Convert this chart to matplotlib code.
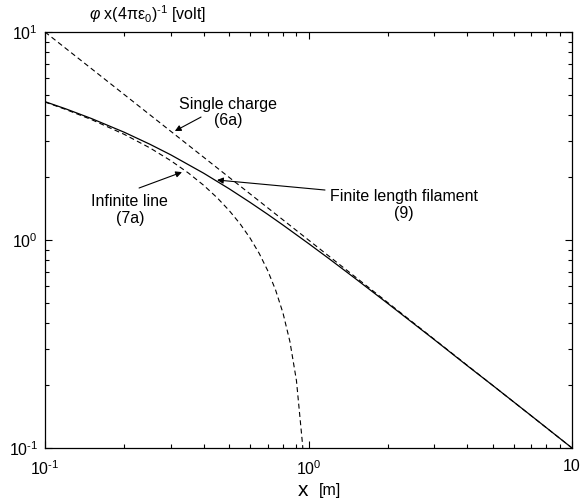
import matplotlib
matplotlib.use("Agg")
import matplotlib.pyplot as plt

plt.rcParams['font.family'] = ['Liberation Sans', 'DejaVu Sans']
plt.rcParams['mathtext.fontset'] = 'custom'
plt.rcParams['mathtext.rm'] = 'Liberation Sans'
plt.rcParams['mathtext.it'] = 'Liberation Sans:italic'
plt.rcParams['mathtext.bf'] = 'Liberation Sans:bold'

# single charge (6a)
x_single = [0.1, 0.2, 0.5, 1.0, 2.0, 5.0, 10.0]
y_single = [10.0, 5.0, 2.0, 1.0, 0.5, 0.2, 0.1]

# infinite line (7a)
x_line = [0.1, 0.12, 0.15, 0.2, 0.25, 0.3, 0.35, 0.4, 0.45, 0.5, 0.55, 0.6,
          0.65, 0.7, 0.75, 0.8, 0.85, 0.9, 0.95, 0.97]
y_line = [4.605, 4.241, 3.794, 3.219, 2.773, 2.408, 2.100, 1.833, 1.597, 1.386,
          1.196, 1.022, 0.862, 0.713, 0.575, 0.446, 0.325, 0.211, 0.103, 0.061]

# finite length filament (9)
x_fil = [0.1, 0.12, 0.15, 0.2, 0.25, 0.3, 0.4, 0.5, 0.6, 0.7, 0.8, 1.0, 1.2,
         1.5, 2.0, 3.0, 4.0, 5.0, 7.0, 10.0]
y_fil = [4.625, 4.269, 3.838, 3.295, 2.887, 2.568, 2.095, 1.763, 1.517, 1.329,
         1.180, 0.962, 0.811, 0.655, 0.495, 0.332, 0.249, 0.200, 0.143, 0.100]

xticks = [0.1, 1, 10]
xtick_labels = [r'10$^{\text{-}1}$', r'10$^{0}$', '10']
yticks = [0.1, 1, 10]
ytick_labels = [r'10$^{\text{-}1}$', r'10$^{0}$', r'10$^{1}$']

fig = plt.figure(figsize=(5.81, 5.04), dpi=100)
ax = fig.add_axes([45 / 581, 1 - 448 / 504, 527 / 581, 416 / 504])

ax.plot(x_single, y_single, color='k', lw=0.8, ls=(0, (4.5, 3)))
ax.plot(x_line, y_line, color='k', lw=0.8, ls=(0, (4.5, 3)))
ax.plot(x_fil, y_fil, color='k', lw=0.9)

ax.set_xscale('log')
ax.set_yscale('log')
ax.set_xlim(0.1, 10)
ax.set_ylim(0.1, 10)
ax.set_xticks(xticks)
ax.set_xticklabels(xtick_labels)
ax.set_yticks(yticks)
ax.set_yticklabels(ytick_labels)
ax.tick_params(which='both', direction='in', top=True, right=True, labelsize=11.5, width=0.8)
ax.tick_params(which='major', length=5)
ax.tick_params(which='minor', length=3)
ax.tick_params(axis='x', pad=8)
ax.tick_params(axis='y', pad=5)
for s in ax.spines.values():
    s.set_linewidth(0.9)

arrow = dict(arrowstyle='-|>', color='k', lw=0.8, mutation_scale=9, shrinkA=0, shrinkB=0)

ax.annotate('', xy=(0.311, 3.34), xytext=(0.391, 3.90), arrowprops=arrow)
ax.text(0.495, 4.12, 'Single charge\n(6a)', ha='center', va='center', fontsize=11.5, linespacing=1.1)

ax.annotate('', xy=(0.331, 2.12), xytext=(0.2275, 1.778), arrowprops=arrow)
ax.text(0.210, 1.394, 'Infinite line\n(7a)', ha='center', va='center', fontsize=11.5, linespacing=1.1)

ax.annotate('', xy=(0.4497, 1.943), xytext=(1.155, 1.739), arrowprops=arrow)
ax.text(2.304, 1.474, 'Finite length filament\n(9)', ha='center', va='center', fontsize=11.5, linespacing=1.1)

fig.text(148 / 581, 1 - 14 / 504,
         r'$\varphi$' + r' x(4$\mathrm{\pi\varepsilon}_{0}$)$^{\text{-}1}$ [volt]',
         ha='center', va='center', fontsize=11.5)
fig.text(303 / 581, 1 - 490 / 504, 'x', ha='center', va='center', fontsize=15)
fig.text(330 / 581, 1 - 490 / 504, '[m]', ha='center', va='center', fontsize=11.5)

fig.savefig('out.png', dpi=100)
